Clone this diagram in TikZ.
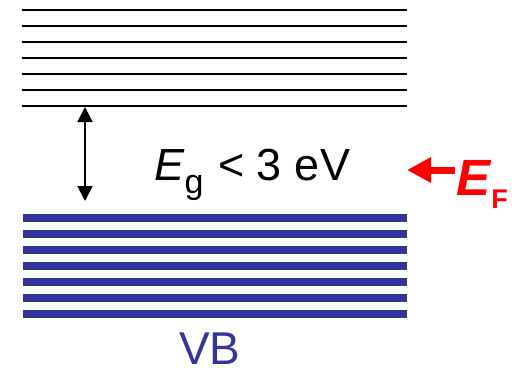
\documentclass[tikz,border=0pt]{standalone}
\usepackage{fontspec}
\setmainfont{Liberation Sans}
\usetikzlibrary{arrows.meta}
\definecolor{vbblue}{RGB}{53,53,153}
\begin{document}
\begin{tikzpicture}[x=1pt,y=-1pt,
  cbline/.style={line width=2pt,black},
  vbline/.style={line width=8pt,vbblue},
  gaparrow/.style={line width=1.8pt,{Triangle[length=15pt,width=15pt]}-{Triangle[length=15pt,width=15pt]}},
  efarrow/.style={line width=7pt,red,-{Triangle[length=24pt,width=24pt]}},
  lbl/.style={inner sep=0pt,anchor=base west}]
\useasboundingbox (0,0) rectangle (515,373);
% conduction band levels
\foreach \y in {10,26,42,58,74,90,106} \draw[cbline] (22,\y) -- (407,\y);
% valence band levels
\foreach \y in {218,234,250,266,282,298,314} \draw[vbline] (23,\y) -- (407,\y);
% gap arrow
\coordinate (gtop) at (85,107);
\coordinate (gbot) at (85,201);
\draw[gaparrow] (gtop) -- (gbot);
% gap label
\node[lbl] (eg) at (154,180) {\fontsize{45}{45}\selectfont\textit{E}\raisebox{-13pt}{\fontsize{34}{34}\selectfont g}\hspace{2pt} < 3 e\hspace{1pt}V};
% Fermi level
\node[lbl,text=red] (ef) at (456,195) {\fontsize{51}{51}\selectfont\bfseries\textit{E}\raisebox{-13pt}{\fontsize{27}{27}\selectfont F}};
\coordinate (eftail) at (455,170);
\coordinate (eftip) at (407,170);
\draw[efarrow] (eftail) -- (eftip);
% VB label
\node[lbl,text=vbblue,text depth=0pt] (vb) at (179,364) {\fontsize{46}{46}\selectfont VB};
\end{tikzpicture}
\end{document}
